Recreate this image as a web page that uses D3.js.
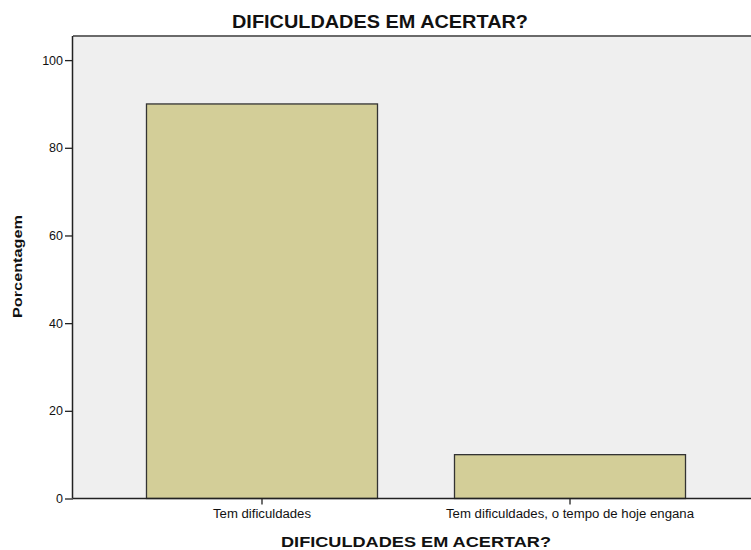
<!DOCTYPE html>
<html><head><meta charset="utf-8">
<script src="https://cdn.jsdelivr.net/npm/d3@7"></script>
<style>body{margin:0;background:#fff}svg{display:block}text{font-family:"Liberation Sans",Arial,sans-serif;fill:#111}</style>
</head><body>
<svg id="c" width="751" height="550"></svg>
<script>
const categories = ["Tem dificuldades", "Tem dificuldades, o tempo de hoje engana"];
const values = [90, 10];
const yTicks = [0, 20, 40, 60, 80, 100];
const chartTitle = "DIFICULDADES EM ACERTAR?";
const xTitle = "DIFICULDADES EM ACERTAR?";
const yTitle = "Porcentagem";

(function () {
const svg = d3.select("#c");
const pL = 73, pR = 759, pT = 36, pB = 498.5;

const x = d3.scaleBand().domain(categories).range([pL, pR]).paddingInner(0.25).paddingOuter(0.2386);
const y = d3.scaleLinear().domain([0, 105.5]).range([pB, pT]);

svg.append("rect").attr("x", pL).attr("y", pT).attr("width", 751 - pL).attr("height", pB - pT).attr("fill", "#efefef");
svg.append("line").attr("x1", pL).attr("x2", 751).attr("y1", pT).attr("y2", pT).attr("stroke", "#6a6a6a").attr("stroke-width", 2);

svg.selectAll("rect.bar").data(values).enter().append("rect").attr("class", "bar")
  .attr("x", (d, i) => x(categories[i]))
  .attr("width", x.bandwidth())
  .attr("y", d => y(d))
  .attr("height", d => y(0) - y(d))
  .attr("fill", "#d3ce98").attr("stroke", "#333").attr("stroke-width", 1.3);

const yAxis = d3.axisLeft(y).tickValues(yTicks).tickSize(8).tickPadding(2);
const gy = svg.append("g").attr("transform", `translate(${pL},0)`).call(yAxis);
gy.select(".domain").attr("stroke", "#222").attr("stroke-width", 1.5).attr("d", `M-0.5,${pT}V${pB}`);
gy.selectAll(".tick line").attr("stroke", "#222").attr("stroke-width", 1.3);
gy.selectAll(".tick text").attr("font-size", 12.5).attr("fill", "#222").style("font-family", '"Liberation Sans",Arial,sans-serif');

const xAxis = d3.axisBottom(x).tickSize(6).tickPadding(5);
const gx = svg.append("g").attr("transform", `translate(0,${pB})`).call(xAxis);
gx.select(".domain").attr("stroke", "#222").attr("stroke-width", 1.5).attr("d", `M${pL},0H751`);
gx.selectAll(".tick line").attr("stroke", "#222").attr("stroke-width", 1.3);
const catWidths = [98, 248];
gx.selectAll(".tick text").attr("font-size", 12).attr("fill", "#111")
  .attr("textLength", (d, i) => catWidths[i]).attr("lengthAdjust", "spacingAndGlyphs")
  .style("font-family", '"Liberation Sans",Arial,sans-serif');

svg.append("text").attr("x", 380).attr("y", 28).attr("text-anchor", "middle")
  .attr("font-size", 18).attr("font-weight", "bold").attr("textLength", 296).attr("lengthAdjust", "spacingAndGlyphs").text(chartTitle);
svg.append("text").attr("x", (pL + pR) / 2).attr("y", 547).attr("text-anchor", "middle")
  .attr("font-size", 15).attr("font-weight", "bold").attr("textLength", 270).attr("lengthAdjust", "spacingAndGlyphs").text(xTitle);
svg.append("text").attr("transform", "translate(22,266.5) rotate(-90)").attr("text-anchor", "middle")
  .attr("font-size", 13).attr("font-weight", "bold").attr("textLength", 103).attr("lengthAdjust", "spacingAndGlyphs").text(yTitle);
})();
</script>
</body></html>
